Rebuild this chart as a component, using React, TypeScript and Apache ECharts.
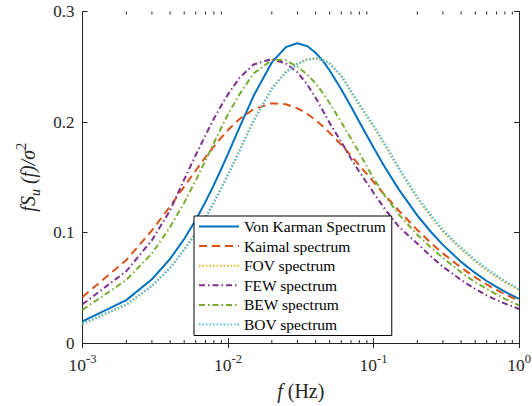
import React, { useEffect, useRef } from 'react';
import * as echarts from 'echarts';

const freq = [0.001, 0.002, 0.003, 0.004, 0.005, 0.006, 0.007, 0.008, 0.009, 0.01, 0.012, 0.015, 0.02, 0.025, 0.03, 0.035, 0.04, 0.045, 0.05, 0.06, 0.07, 0.08, 0.1, 0.12, 0.15, 0.2, 0.25, 0.3, 0.4, 0.5, 0.6, 0.7, 0.8, 1.0];

const vonKarman = [0.0195, 0.0388, 0.0577, 0.0762, 0.0941, 0.1113, 0.1277, 0.1431, 0.1577, 0.1712, 0.1952, 0.2237, 0.2539, 0.2678, 0.2713, 0.2687, 0.2627, 0.2551, 0.2466, 0.2297, 0.2140, 0.2000, 0.1769, 0.1589, 0.1386, 0.1155, 0.1000, 0.0888, 0.0734, 0.0634, 0.0561, 0.0507, 0.0464, 0.0400];
const kaimal = [0.0417, 0.0750, 0.1019, 0.1237, 0.1415, 0.1561, 0.1681, 0.1779, 0.1860, 0.1927, 0.2027, 0.2116, 0.2169, 0.2161, 0.2124, 0.2074, 0.2017, 0.1960, 0.1902, 0.1794, 0.1696, 0.1608, 0.1458, 0.1337, 0.1195, 0.1023, 0.0902, 0.0811, 0.0682, 0.0594, 0.0530, 0.0481, 0.0442, 0.0383];
const fov = [0.0170, 0.0345, 0.0515, 0.0680, 0.0845, 0.0995, 0.1135, 0.1275, 0.1405, 0.1525, 0.1745, 0.2015, 0.2305, 0.2455, 0.2530, 0.2568, 0.2575, 0.2558, 0.2528, 0.2415, 0.2272, 0.2150, 0.1960, 0.1790, 0.1570, 0.1310, 0.1140, 0.1010, 0.0850, 0.0740, 0.0660, 0.0600, 0.0550, 0.0478];
const few = [0.035, 0.065, 0.093, 0.120, 0.148, 0.170, 0.188, 0.203, 0.215, 0.225, 0.240, 0.252, 0.257, 0.253, 0.245, 0.234, 0.222, 0.210, 0.199, 0.182, 0.167, 0.155, 0.136, 0.121, 0.105, 0.090, 0.078, 0.069, 0.057, 0.049, 0.043, 0.039, 0.0357, 0.0308];
const bew = [0.030, 0.057, 0.081, 0.105, 0.127, 0.147, 0.165, 0.181, 0.195, 0.207, 0.225, 0.244, 0.256, 0.256, 0.250, 0.243, 0.235, 0.226, 0.217, 0.200, 0.185, 0.172, 0.149, 0.133, 0.116, 0.098, 0.086, 0.077, 0.064, 0.055, 0.049, 0.044, 0.040, 0.034];
const bov = [0.0174, 0.0350, 0.0517, 0.0680, 0.0845, 0.0990, 0.1130, 0.1270, 0.1400, 0.1520, 0.1740, 0.2010, 0.2300, 0.2450, 0.2525, 0.2565, 0.2575, 0.2560, 0.2530, 0.2420, 0.2280, 0.2160, 0.1970, 0.1800, 0.1580, 0.1320, 0.1150, 0.1020, 0.0860, 0.0750, 0.0670, 0.0610, 0.0560, 0.0486];

const seriesNames = ['Von Karman Spectrum', 'Kaimal spectrum', 'FOV spectrum', 'FEW spectrum', 'BEW spectrum', 'BOV spectrum'];
const seriesValues = [vonKarman, kaimal, fov, few, bew, bov];
const seriesColors = ['#0072BD', '#D95319', '#EDB120', '#7E2F8E', '#77AC30', '#4DBEEE'];
const seriesDash: any[] = ['solid', [8, 5], [1.5, 2], [6, 3, 1.5, 3], [6, 3, 1.5, 3], [1.5, 2]];

const yTicks = [0, 0.1, 0.2, 0.3];
const xMinorTicks = [0.002, 0.003, 0.004, 0.005, 0.006, 0.007, 0.008, 0.009, 0.02, 0.03, 0.04, 0.05, 0.06, 0.07, 0.08, 0.09, 0.2, 0.3, 0.4, 0.5, 0.6, 0.7, 0.8, 0.9];

const FONT = 'Liberation Serif';
const AX = '#262626';

export default function App() {
  const ref = useRef<HTMLDivElement>(null);
  useEffect(() => {
    const chart = echarts.init(ref.current!, null, { renderer: 'svg' });
    const logAxis = (pos: string, showLabel: boolean) => ({
      type: 'log',
      logBase: 10,
      min: 0.001,
      max: 1,
      position: pos,
      axisLine: { show: true, lineStyle: { color: AX, width: 1 } },
      axisTick: { show: true, inside: true, length: 5, lineStyle: { color: AX, width: 1 } },
      splitLine: { show: false },
      minorTick: { show: false },
      axisLabel: showLabel
        ? {
            show: true,
            margin: 9,
            formatter: (v: number) => `{b|10}{s|${Math.round(Math.log10(v))}}`,
            rich: {
              b: { fontFamily: FONT, fontSize: 17.5, color: AX, lineHeight: 26 },
              s: { fontFamily: FONT, fontSize: 12.5, color: AX, lineHeight: 13, verticalAlign: 'top' },
            },
          }
        : { show: false },
    });
    const linAxis = (pos: string, showLabel: boolean) => ({
      type: 'value',
      min: yTicks[0],
      max: yTicks[yTicks.length - 1],
      interval: 0.1,
      position: pos,
      axisLine: { show: true, lineStyle: { color: AX, width: 1 } },
      axisTick: { show: true, inside: true, length: 5, lineStyle: { color: AX, width: 1 } },
      splitLine: { show: false },
      axisLabel: showLabel
        ? { show: true, margin: 8, fontFamily: FONT, fontSize: 17, color: AX }
        : { show: false },
    });
    const option: any = {
      animation: false,
      backgroundColor: '#fff',
      grid: { left: 82.5, right: 13, top: 11.5, bottom: 63, containLabel: false, outerBoundsMode: 'none' },
      xAxis: [
        {
          ...logAxis('bottom', true),
          name: '{i|f} (Hz)',
          nameLocation: 'middle',
          nameGap: 38,
          nameTextStyle: {
            fontFamily: FONT,
            fontSize: 20,
            color: AX,
            rich: { i: { fontFamily: FONT, fontSize: 20, fontStyle: 'italic', color: AX } },
          },
        },
        logAxis('top', false),
      ],
      yAxis: [
        {
          ...linAxis('left', true),
          name: '{i|fS}{sub|u}{i| (f)/σ}{sup|2}',
          nameLocation: 'middle',
          nameGap: 33,
          nameRotate: 90,
          nameTextStyle: {
            fontFamily: FONT,
            fontSize: 20,
            color: AX,
            rich: {
              i: { fontFamily: FONT, fontSize: 20, fontStyle: 'italic', color: AX, lineHeight: 28 },
              sub: { fontFamily: FONT, fontSize: 14, fontStyle: 'italic', color: AX, lineHeight: 14, verticalAlign: 'bottom' },
              sup: { fontFamily: FONT, fontSize: 14, color: AX, lineHeight: 14, verticalAlign: 'top' },
            },
          },
        },
        linAxis('right', false),
      ],
      legend: {
        orient: 'vertical',
        left: 194,
        top: 216,
        itemWidth: 40,
        itemHeight: 14,
        itemGap: 3.6,
        padding: [2.5, 6, 3, 4],
        backgroundColor: '#fff',
        borderColor: '#000',
        borderWidth: 1,
        borderRadius: 0,
        itemStyle: { opacity: 0 },
        textStyle: { fontFamily: FONT, fontSize: 15.5, color: '#000' },
        data: seriesNames,
      },
      series: seriesNames.map((name, i) => ({
        name,
        type: 'line',
        xAxisIndex: 0,
        yAxisIndex: 0,
        symbol: 'none',
        smooth: false,
        color: seriesColors[i],
        lineStyle: { color: seriesColors[i], width: i === 2 || i === 5 ? 2.3 : 2, type: seriesDash[i] },
        data: freq.map((f, j) => [f, seriesValues[i][j]]),
      })),
    };
    chart.setOption(option);

    const yBottom = chart.convertToPixel({ yAxisIndex: 0 }, 0) as number;
    const yTop = chart.convertToPixel({ yAxisIndex: 0 }, 0.3) as number;
    const graphics: any[] = [];
    xMinorTicks.forEach((v) => {
      const x = chart.convertToPixel({ xAxisIndex: 0 }, v) as number;
      graphics.push({ type: 'line', silent: true, shape: { x1: x, y1: yBottom, x2: x, y2: yBottom - 3 }, style: { stroke: AX, lineWidth: 1 } });
      graphics.push({ type: 'line', silent: true, shape: { x1: x, y1: yTop, x2: x, y2: yTop + 3 }, style: { stroke: AX, lineWidth: 1 } });
    });
    chart.setOption({ graphic: graphics });

    return () => chart.dispose();
  }, []);
  return <div ref={ref} style={{ position: 'fixed', left: 0, top: 0, width: 532, height: 406 }} />;
}
